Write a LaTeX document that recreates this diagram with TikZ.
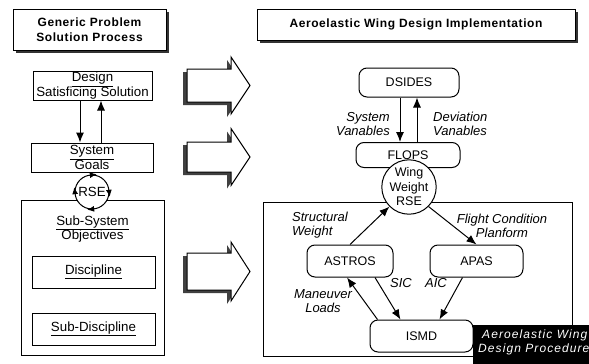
\documentclass[tikz,border=0pt]{standalone}
\usepackage{fontspec}
\setmainfont{Liberation Sans}
\newfontfamily\titlefont[LetterSpace=5]{Liberation Sans}
\newfontfamily\capfont[LetterSpace=9]{Liberation Sans}
\usetikzlibrary{arrows.meta,decorations.markings,calc,shadows}
\begin{document}
\begin{tikzpicture}[x=1pt,y=-1pt,
  txt/.style={font=\fontsize{12.5}{14}\selectfont},
  ltxt/.style={font=\fontsize{13.3}{14.5}\selectfont},
  itl/.style={font=\fontsize{13}{14}\selectfont\itshape, inner sep=0pt},
  box/.style={draw, line width=1pt, fill=white, inner sep=0pt, align=center, txt},
  lbox/.style={box, ltxt},
  rbox/.style={box, rounded corners=8pt},
  titlebox/.style={draw, line width=1pt, fill=white, align=center, inner sep=0pt,
    font=\titlefont\bfseries\fontsize{12}{15.5}\selectfont,
    drop shadow={shadow xshift=3pt, shadow yshift=-3pt, fill=black!80, opacity=1}},
  arr/.style={-{Latex[length=10pt,width=8pt]}, line width=1pt},
  bigarrow/.style={draw, line width=1pt, fill=white},
  arrshadow/.style={fill=black!75},
  rsecirc/.style={circle, draw, line width=1pt, fill=white, inner sep=0pt, align=center}
]
\useasboundingbox (0,0) rectangle (589,364);

% ---------- left column ----------
\node[titlebox, minimum width=153pt, minimum height=41pt] (gtitle) at (89.5,29.5)
  {Generic Problem\\Solution Process};

\node[lbox, minimum width=143pt, minimum height=155pt] (subsys) at (92.5,277.5) {};
\node[ltxt, align=center, inner sep=0pt] (subsyslabel) at (92.5,229)
  {\underline{Sub-System}\\Objectives};
\node[lbox, minimum width=123pt, minimum height=32pt] (disc) at (93.5,272) {\underline{Discipline}};
\node[lbox, minimum width=123pt, minimum height=32pt] (subdisc) at (93.5,329) {\underline{Sub-Discipline}};

\node[lbox, minimum width=119pt, minimum height=29pt] (design) at (92.5,85.5)
  {\underline{Design}\\Satisficing Solution};
\node[lbox, minimum width=122pt, minimum height=29pt] (system) at (92,157.5)
  {\underline{System}\\Goals};

\draw[arr] (design.south -| 80,0) -- (system.north -| 80,0);
\draw[arr] (system.north -| 101,0) -- (design.south -| 101,0);

\node[rsecirc, minimum size=34pt, ltxt,
  postaction={decorate, decoration={markings,
    mark=at position 0.02 with {\arrow{Latex[length=7pt,width=6pt,reversed]}},
    mark=at position 0.27 with {\arrow{Latex[length=7pt,width=6pt,reversed]}},
    mark=at position 0.52 with {\arrow{Latex[length=7pt,width=6pt,reversed]}},
    mark=at position 0.77 with {\arrow{Latex[length=7pt,width=6pt,reversed]}}}}]
  (rse) at (92,192) {RSE};

% ---------- big arrows ----------
\foreach \cy/\bh/\hh [count=\i] in {85.5/16.5/28.5, 157/15/28.5, 271.5/18.5/29.5} {
  \fill[arrshadow] ($(187-4,\cy-\bh+3)$) -- ($(231-4,\cy-\bh+3)$) -- ($(231-4,\cy-\hh+3)$)
     -- ($(250-4,\cy+3)$) -- ($(231-4,\cy+\hh+3)$) -- ($(231-4,\cy+\bh+3)$)
     -- ($(187-4,\cy+\bh+3)$) -- cycle;
  \draw[bigarrow] (187,\cy-\bh) -- (231,\cy-\bh) -- (231,\cy-\hh) -- (250,\cy)
     -- (231,\cy+\hh) -- (231,\cy+\bh) -- (187,\cy+\bh) -- cycle;
}

% ---------- right column ----------
\node[titlebox, minimum width=318pt, minimum height=31pt] (atitle) at (416,24.5)
  {Aeroelastic Wing Design Implementation};

\node[rbox, minimum width=100pt, minimum height=29pt] (dsides) at (409,82.5) {DSIDES};
\node[rbox, minimum width=104pt, minimum height=25pt] (flops) at (408,155) {FLOPS};

\draw[arr] (dsides.south -| 400,0) -- (flops.north -| 400,0);
\draw[arr] (flops.north -| 417,0) -- (dsides.south -| 417,0);
\node[itl, align=right, anchor=east] (sysvar) at (390,124) {System\\Vanables};
\node[itl, align=left, anchor=west] (devvar) at (433,124) {Deviation\\Vanables};

\node[box, minimum width=309pt, minimum height=154pt] (lower) at (417.5,279) {};

\node[rsecirc, minimum size=48pt, font=\fontsize{12.5}{14.5}\selectfont] (wws) at (409,187)
  {Wing\\Weight\\RSE};

\node[rbox, minimum width=86pt, minimum height=32pt] (astros) at (350,261) {ASTROS};
\node[rbox, minimum width=93pt, minimum height=32pt] (apas) at (476.5,261) {APAS};
\node[rbox, minimum width=103pt, minimum height=32pt] (ismd) at (421.5,336) {ISMD};

\draw[arr] (astros.north) -- (wws.225);
\draw[arr] (wws.-45) -- (apas.north);
\node[itl, align=left, anchor=west] (structw) at (292,225.5) {Structural\\Weight};
\node[itl, align=center] (flight) at (502,225.5) {Flight Condition\\Planform};

\draw[arr] ($(ismd.north west)+(8,0)$) -- ($(astros.south)+(-3,0)$);
\draw[arr] ($(astros.south)+(25,0)$) -- ($(ismd.north)+(-21,0)$);
\draw[arr] ($(apas.south)+(-14,0)$) -- ($(ismd.north)+(18,0)$);
\node[itl, align=center] (manload) at (323,301) {Maneuver\\Loads};
\node[itl] (sic) at (401,283) {SIC};
\node[itl] (aic) at (436,283) {AIC};

% black caption
\fill[black] (473,325) rectangle (600,370);
\node[font=\capfont\fontsize{12}{13.5}\selectfont\itshape, text=white, align=left, anchor=north west, inner sep=0pt]
  (caption) at (478,330) {\hspace*{4pt}Aeroelastic Wing\\Design Procedure};
\end{tikzpicture}
\end{document}
